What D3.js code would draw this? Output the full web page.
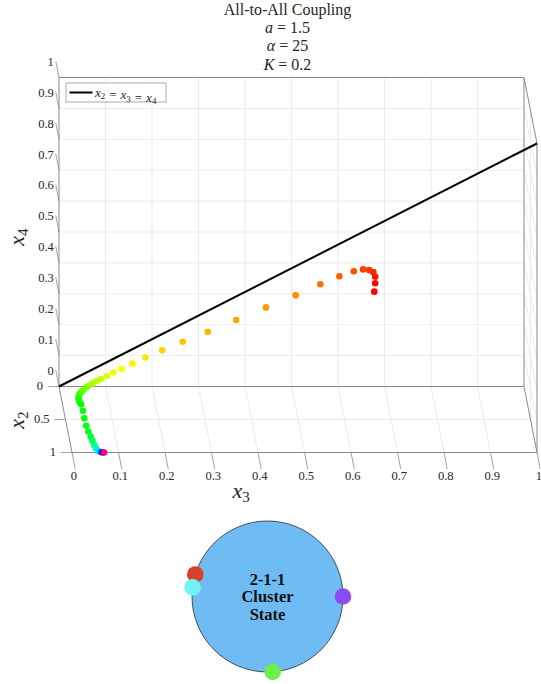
<!DOCTYPE html>
<html>
  <head>
    <meta charset='utf-8'>
    <title>All-to-All Coupling</title>
    <script src='https://cdn.jsdelivr.net/npm/d3@7'></script>
    <style>
      body { margin: 0; background: #fff; }
      svg text { font-family: 'Liberation Serif', 'Times New Roman', 'DejaVu Serif', serif; fill: #262626; }
    </style>
  </head>
  <body>
    <div id='grafico'></div>
    <script>
    // Datos: ticks, trayectoria (x2, x3, x4) y tiempo normalizado
    const ticks3 = [0, 0.1, 0.2, 0.3, 0.4, 0.5, 0.6, 0.7, 0.8, 0.9, 1];
    const ticks4 = [0, 0.1, 0.2, 0.3, 0.4, 0.5, 0.6, 0.7, 0.8, 0.9, 1];
    const ticks2 = [0, 0.5, 1];

    const trajX3 = [0.678, 0.680, 0.680, 0.676, 0.667, 0.654, 0.634, 0.603, 0.562, 0.509,
                    0.445, 0.381, 0.320, 0.266, 0.222, 0.186, 0.158, 0.135, 0.117, 0.103,
                    0.090, 0.080, 0.072, 0.065, 0.059, 0.053, 0.048, 0.043, 0.039, 0.037,
                    0.037, 0.038, 0.040, 0.041, 0.041, 0.042, 0.044, 0.047, 0.049, 0.051,
                    0.053, 0.057, 0.062, 0.066, 0.069];
    const trajX4 = [0.307, 0.334, 0.355, 0.370, 0.377, 0.379, 0.373, 0.357, 0.331, 0.295,
                    0.256, 0.215, 0.177, 0.145, 0.117, 0.094, 0.074, 0.057, 0.045, 0.034,
                    0.024, 0.017, 0.010, 0.003, 0, 0, 0, 0, 0, 0,
                    0, 0, 0, 0, 0, 0, 0, 0, 0, 0,
                    0, 0, 0, 0, 0];
    const trajX2 = [0, 0, 0, 0, 0, 0, 0, 0, 0, 0,
                    0, 0, 0, 0, 0, 0, 0, 0, 0, 0,
                    0, 0, 0, 0, 0.012, 0.042, 0.068, 0.098, 0.133, 0.170,
                    0.205, 0.239, 0.270, 0.367, 0.482, 0.594, 0.685, 0.761, 0.826, 0.886,
                    0.936, 0.973, 0.992, 1, 1];
    const trajT  = [0, 0.006, 0.014, 0.022, 0.033, 0.042, 0.05, 0.061, 0.072, 0.089,
                    0.1, 0.108, 0.117, 0.128, 0.139, 0.15, 0.158, 0.167, 0.178, 0.189,
                    0.2, 0.211, 0.222, 0.233, 0.244, 0.256, 0.267, 0.278, 0.289, 0.3,
                    0.311, 0.322, 0.328, 0.333, 0.336, 0.342, 0.35, 0.364, 0.383, 0.411,
                    0.45, 0.514, 0.589, 0.689, 0.931];

    // Fases de los osciladores (grados) para el diagrama del estado 2-1-1
    const phases = [163, 173, 0, 274];
    const phaseColors = ['#d9402b', '#6ff4f6', '#8a4cf0', '#6def4b'];

    const width = 541, height = 684;
    const svg = d3.select('#grafico').append('svg')
                  .attr('width', width)
                  .attr('height', height)
                  .attr('font-family', "'Liberation Serif', 'Times New Roman', serif");

    // Escalas: plano trasero (x3 horizontal, x4 vertical) + desplazamiento por profundidad x2
    const x3Scale = d3.scaleLinear().domain([0, 1]).range([59, 524]);
    const x4Scale = d3.scaleLinear().domain([0, 1]).range([386.5, 77.5]);
    const dX = d3.scaleLinear().domain([0, 1]).range([0, 13]);
    const dY = d3.scaleLinear().domain([0, 1]).range([0, 66]);
    const proj = (x2, x3, x4) => [x3Scale(x3) + dX(x2), x4Scale(x4) + dY(x2)];

    const fmt = d3.format('~g');
    const gridColor = '#e6e6e6', boxColor = '#8a8a8a';

    const line = (g, a, b, color, w) => g.append('line')
      .attr('x1', a[0]).attr('y1', a[1]).attr('x2', b[0]).attr('y2', b[1])
      .attr('stroke', color).attr('stroke-width', w);

    const grid = svg.append('g');
    // Rejilla del plano trasero (x2 = 0)
    ticks3.slice(1, -1).forEach(v => line(grid, proj(0, v, 0), proj(0, v, 1), gridColor, 0.8));
    ticks4.slice(1, -1).forEach(v => line(grid, proj(0, 0, v), proj(0, 1, v), gridColor, 0.8));
    // Suelo (x4 = 0)
    ticks3.slice(1, -1).forEach(v => line(grid, proj(0, v, 0), proj(1, v, 0), gridColor, 0.8));
    ticks2.slice(1, -1).forEach(v => line(grid, proj(v, 0, 0), proj(v, 1, 0), gridColor, 0.8));
    // Pared derecha (x3 = 1)
    ticks4.slice(1, -1).forEach(v => line(grid, proj(0, 1, v), proj(1, 1, v), gridColor, 0.8));
    ticks2.slice(1, -1).forEach(v => line(grid, proj(v, 1, 0), proj(v, 1, 1), gridColor, 0.8));

    // Caja
    const box = svg.append('g');
    [[[0,0,0],[0,1,0]], [[0,0,1],[0,1,1]], [[0,0,0],[0,0,1]], [[0,1,0],[0,1,1]],
     [[0,0,0],[1,0,0]], [[1,0,0],[1,1,0]], [[0,1,0],[1,1,0]], [[0,1,1],[1,1,1]],
     [[1,1,0],[1,1,1]]]
      .forEach(([a, b]) => line(box, proj(...a), proj(...b), boxColor, 1));

    // Ticks x4 (arista trasera izquierda, hacia -x2)
    const axes = svg.append('g');
    ticks4.forEach(v => {
      const p = proj(0, 0, v), q = proj(-0.25, 0, v);
      line(axes, p, q, boxColor, 0.8);
      axes.append('text').attr('x', q[0] - 2).attr('y', q[1] + 2)
        .attr('text-anchor', 'end').attr('dominant-baseline', 'middle')
        .attr('font-size', 12.5).text(fmt(v));
    });
    // Ticks x2 (arista izquierda del suelo, hacia -x3)
    ticks2.forEach(v => {
      const p = proj(v, 0, 0);
      line(axes, p, [p[0] - 11, p[1]], boxColor, 0.8);
      axes.append('text').attr('x', p[0] - 16).attr('y', p[1] + 1)
        .attr('text-anchor', 'end').attr('dominant-baseline', 'middle')
        .attr('font-size', 12.5).text(fmt(v));
    });
    // Ticks x3 (arista frontal del suelo, hacia +x2)
    ticks3.forEach(v => {
      const p = proj(1, v, 0), q = proj(1.25, v, 0);
      line(axes, p, q, boxColor, 0.8);
      axes.append('text').attr('x', q[0] - 1.5).attr('y', q[1] + 8)
        .attr('text-anchor', 'middle').attr('dominant-baseline', 'middle')
        .attr('font-size', 12.5).text(fmt(v));
    });

    // Etiquetas de ejes
    const axisLabel = (x, y, sub, rot) => {
      const t = svg.append('text')
        .attr('transform', `translate(${x},${y}) rotate(${rot})`)
        .attr('text-anchor', 'middle').attr('font-size', 22);
      t.append('tspan').attr('font-style', 'italic').text('x');
      t.append('tspan').attr('font-size', 15).attr('dy', 4).text(sub);
    };
    axisLabel(24, 237, '4', -90);
    axisLabel(24, 420, '2', -90);
    axisLabel(241, 498, '3', 0);

    // Línea x2 = x3 = x4
    const diag = [0, 1];
    svg.append('path')
      .attr('d', d3.line()(diag.map(t => proj(t, t, t))))
      .attr('stroke', '#000').attr('stroke-width', 2).attr('fill', 'none');

    // Trayectoria coloreada según el tiempo (mapa hsv)
    const hsv = d3.scaleLinear().domain([0, 1]).range([0, 360]);
    svg.append('g').selectAll('circle')
      .data(trajT.map((t, i) => ({ t, p: proj(trajX2[i], trajX3[i], trajX4[i]) })))
      .enter().append('circle')
      .attr('cx', d => d.p[0]).attr('cy', d => d.p[1])
      .attr('r', 3.3)
      .attr('fill', d => d3.hsl(hsv(d.t), 1, 0.5).toString());

    // Leyenda
    const leg = svg.append('g');
    leg.append('rect').attr('x', 66).attr('y', 83).attr('width', 100).attr('height', 19)
      .attr('fill', '#fff').attr('stroke', '#9a9a9a').attr('stroke-width', 0.8);
    line(leg, [69.5, 92.5], [92.5, 92.5], '#000', 2);
    const lt = leg.append('text').attr('x', 95).attr('y', 96.5).attr('font-size', 13);
    [['x', '2'], ['\u00a0=\u00a0x', '3'], ['\u00a0=\u00a0x', '4']].forEach(([a, s]) => {
      lt.append('tspan').attr('font-style', 'italic').text(a);
      lt.append('tspan').attr('font-size', 9).attr('dy', 2.5).text(s);
      lt.append('tspan').attr('dy', -2.5).text('');
    });

    // Título
    const title = svg.append('g');
    title.append('text').attr('x', 287.5).attr('y', 14.5).attr('text-anchor', 'middle')
      .attr('font-size', 16).text('All-to-All Coupling');
    const eqn = (y, sym, val) => {
      const t = title.append('text').attr('x', 287.5).attr('y', y)
        .attr('text-anchor', 'middle').attr('font-size', 16);
      t.append('tspan').attr('font-style', 'italic').text(sym);
      t.append('tspan').text('\u00a0=\u00a0' + val);
    };
    eqn(32.5, 'a', '1.5');
    eqn(51, 'α', '25');
    eqn(69.5, 'K', '0.2');

    // Diagrama del estado de clústeres
    const cx = 267.5, cy = 596.5, R = 75.5;
    const ang = d3.scaleLinear().domain([0, 360]).range([0, 2 * Math.PI]);
    const st = svg.append('g');
    st.append('circle').attr('cx', cx).attr('cy', cy).attr('r', R)
      .attr('fill', '#6fbcf5').attr('stroke', '#2b2b2b').attr('stroke-width', 0.8);
    st.selectAll('circle.osc').data(phases).enter().append('circle')
      .attr('class', 'osc')
      .attr('cx', d => cx + R * Math.cos(ang(d)))
      .attr('cy', d => cy - R * Math.sin(ang(d)))
      .attr('r', 8.3)
      .attr('fill', (d, i) => phaseColors[i]);
    ['2-1-1', 'Cluster', 'State'].forEach((s, i) => {
      st.append('text').attr('x', cx).attr('y', 584.5 + i * 17.5)
        .attr('text-anchor', 'middle').attr('font-size', 16.5)
        .attr('font-weight', 'bold').style('fill', '#111').text(s);
    });
    </script>
  </body>
</html>
